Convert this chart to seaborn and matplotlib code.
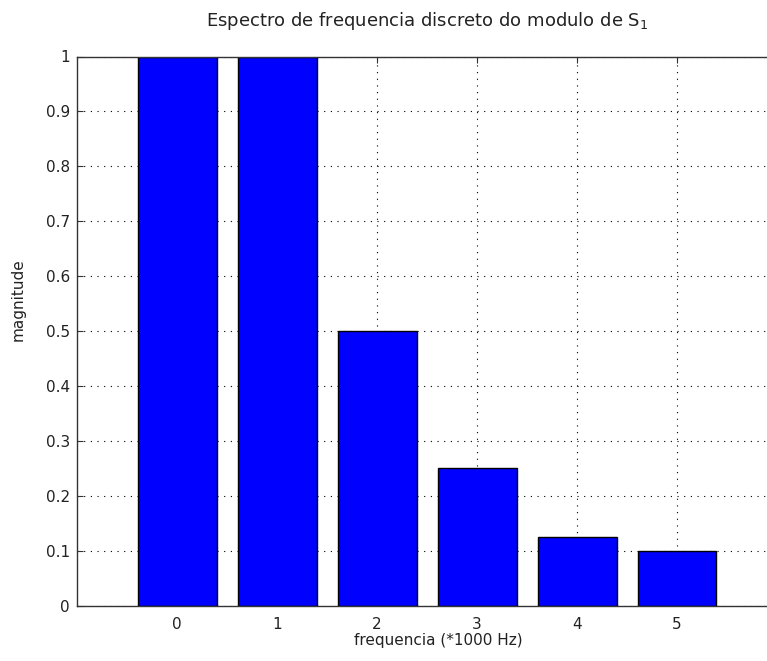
import matplotlib
matplotlib.use("Agg")
import matplotlib.pyplot as plt
import seaborn as sns
import pandas as pd

# Discrete magnitude spectrum of S1
freq = [0, 1, 2, 3, 4, 5]
magnitude = [1.0, 1.0, 0.5, 0.25, 0.125, 0.1]
y_ticks = [0, 0.1, 0.2, 0.3, 0.4, 0.5, 0.6, 0.7, 0.8, 0.9, 1.0]
y_tick_labels = ["0", "0.1", "0.2", "0.3", "0.4", "0.5", "0.6", "0.7", "0.8", "0.9", "1"]

df = pd.DataFrame({"freq": freq, "magnitude": magnitude})

sns.set_style("white")
plt.rcParams["font.family"] = ["DejaVu Sans"]
plt.rcParams["mathtext.default"] = "regular"
plt.rcParams["font.size"] = 11

fig = plt.figure(figsize=(7.67, 6.61), dpi=100)
ax = fig.add_axes([77 / 767, 55.5 / 661, 700 / 767, 549 / 661])

sns.barplot(data=df, x="freq", y="magnitude", native_scale=True, width=0.79,
            color=(0, 0, 1), saturation=1, edgecolor="black", linewidth=1.0,
            ax=ax, zorder=3)

ax.set_xlim(-1, 6)
ax.set_ylim(0, 1)
ax.set_xticks(freq)
ax.set_xticklabels([str(f) for f in freq])
ax.set_yticks(y_ticks)
ax.set_yticklabels(y_tick_labels)

ax.grid(True, color="black", linestyle=(0, (1, 5)), linewidth=0.8, zorder=0)
ax.set_axisbelow(True)

ax.tick_params(direction="in", length=4, width=0.8, color="#333333",
               top=True, right=True, bottom=True, left=True,
               labelsize=11, pad=5, labelcolor="#222222")
ax.tick_params(axis="x", pad=8)
for side in ["left", "bottom", "top", "right"]:
    ax.spines[side].set_color("#333333")
    ax.spines[side].set_linewidth(1.0)
    ax.spines[side].set_zorder(5)

ax.set_xlabel("frequencia (*1000 Hz)", fontsize=11, color="#222222")
ax.xaxis.set_label_coords(0.516, -0.05)
ax.set_ylabel("magnitude", fontsize=11, color="#222222")
ax.yaxis.set_label_coords(-0.073, 0.558)
ax.set_title("Espectro de frequencia discreto do modulo de S$_1$",
             fontsize=13, color="#222222", pad=22)

fig.savefig("out.png", dpi=100)
